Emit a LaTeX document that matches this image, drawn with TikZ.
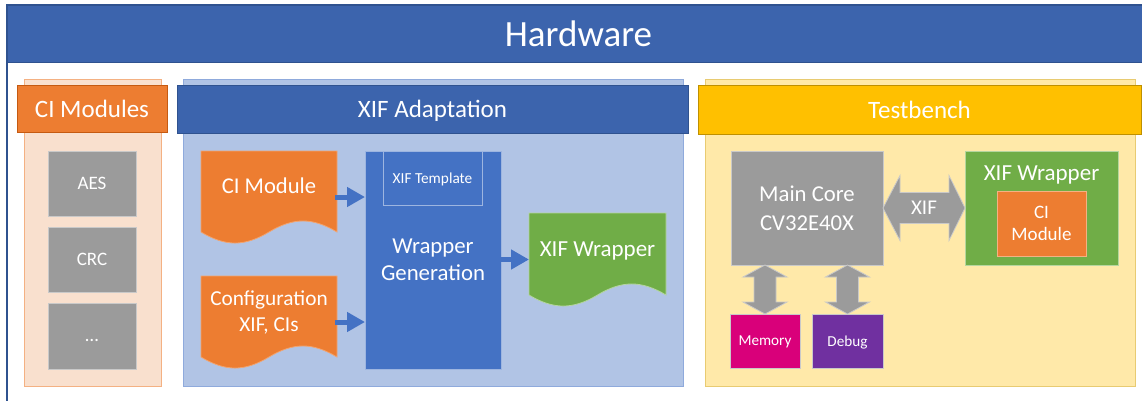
\documentclass[tikz,border=0pt]{standalone}
\usepackage{fontspec}
\setmainfont{Carlito}
\usetikzlibrary{fit,calc,arrows.meta}

\definecolor{hwblue}{HTML}{3C64AD}
\definecolor{hwline}{HTML}{2F528F}
\definecolor{cipeach}{HTML}{F9E0CE}
\definecolor{cipeachline}{HTML}{F4B183}
\definecolor{ciorange}{HTML}{ED7D31}
\definecolor{ciorangeline}{HTML}{C55A11}
\definecolor{modgray}{HTML}{9B9B9B}
\definecolor{modgrayline}{HTML}{C9C9C9}
\definecolor{xifbg}{HTML}{B1C4E5}
\definecolor{xifbgline}{HTML}{8FAADC}
\definecolor{wgblue}{HTML}{4472C4}
\definecolor{wgline}{HTML}{9DB5E0}
\definecolor{wrapgreen}{HTML}{70AD47}
\definecolor{wrapgreenline}{HTML}{B5D69E}
\definecolor{tbyellow}{HTML}{FFC000}
\definecolor{tbyellowline}{HTML}{BF9000}
\definecolor{tbbg}{HTML}{FFE9A9}
\definecolor{tbbgline}{HTML}{E8CB72}
\definecolor{memmag}{HTML}{D9007A}
\definecolor{dbgpurple}{HTML}{7030A0}

\newcommand\fs[2]{\fontsize{#1}{#2}\selectfont}

% document (flowchart) shape drawn over the extent of a named node
\newcommand\docshape[3]{%
  \filldraw[fill=#2, draw=#3, line width=0.8pt]
    (#1.north west) -- (#1.north east) -- ([yshift=11pt]#1.south east)
    .. controls +(-24.5,-14.7) and +(24.5,-14.7) .. ($(#1.south west)!0.5!(#1.south east)+(0,-11)$)
    .. controls +(-24.5,14.7) and +(24.5,14.7) .. ([yshift=11pt]#1.south west) -- cycle;}

\tikzset{
  box/.style={inner sep=0pt, outer sep=0pt},
  frame/.style={box, line width=1pt},
  cell/.style={box, line width=0.8pt, draw=modgrayline},
  txt/.style={inner sep=0pt, outer sep=0pt, text=white, align=center, text depth=0pt},
  bluearr/.style={draw=wgblue, line width=5pt, -{Triangle[length=18pt, width=19pt]}},
  grayarr/.style={fill=modgray, draw=modgrayline, line width=0.8pt},
}

\begin{document}
\begin{tikzpicture}[x=1pt,y=-1pt]
\useasboundingbox (0,0) rectangle (1142,400);
\clip (0,0) rectangle (1142,400);

% Hardware frame and title bar
\node[frame, fit={(7,5) (1160,420)}, draw=hwline, line width=1.4pt, fill=white] (hw) {};
\node[frame, fit={(7,5) (1150,62)}, fill=hwblue, draw=hwline] (hwhead) {};
\node[txt, font=\fs{37}{40}] (hwtxt) at (hwhead.center) {Hardware};

% CI Modules column
\node[frame, fit={(24,79) (161,386)}, fill=cipeach, draw=cipeachline] (cibg) {};
\node[frame, fit={(17,85) (167,132)}, fill=ciorange, draw=ciorangeline] (cihead) {};
\node[txt, font=\fs{25}{28}] (ciheadtxt) at (cihead.center) {CI Modules};
\node[cell, fit={(48,151) (136,216)}, fill=modgray] (aes) {};
\node[cell, fit={(48,227) (136,292)}, fill=modgray] (crc) {};
\node[cell, fit={(48,303) (136,369)}, fill=modgray] (more) {};
\node[txt, font=\fs{19}{22}] (aestxt) at (aes.center) {AES};
\node[txt, font=\fs{19}{22}] (crctxt) at (crc.center) {CRC};
\node[txt, font=\fs{19}{22}] (moretxt) at ([yshift=-4pt]more.center) {\dots};

% XIF Adaptation column
\node[frame, fit={(183,79) (683,386)}, fill=xifbg, draw=xifbgline] (xifbg) {};
\node[frame, fit={(177,85) (688,133)}, fill=hwblue, draw=hwline] (xifhead) {};
\node[txt, font=\fs{25}{28}] (xifheadtxt) at (xifhead.center) {XIF Adaptation};

\node[box, fit={(201,151) (337,243)}] (cimod) {};
\docshape{cimod}{ciorange}{ciorange!70!white}
\node[txt, font=\fs{22.6}{26}] (cimodtxt) at ([yshift=11pt]cimod.center) {CI Module};

\node[box, fit={(201,276) (337,368)}] (config) {};
\docshape{config}{ciorange}{ciorange!70!white}
\node[txt, font=\fs{21.3}{26}] (configtxt) at ([yshift=11pt]config.center) {Configuration\\XIF, CIs};

\node[cell, fit={(365,151) (501,369)}, fill=wgblue, draw=wgline] (wrapgen) {};
\node[txt, font=\fs{22.8}{27}] (wrapgentxt) at (wrapgen.center) {Wrapper\\Generation};
\node[cell, fit={(383,151) (482,205)}, fill=wgblue, draw=wgline] (tmpl) {};
\node[txt, font=\fs{15.3}{18}] (tmpltxt) at (tmpl.center) {XIF Template};

\node[box, fit={(529,213) (666,306)}] (xifwrap) {};
\docshape{xifwrap}{wrapgreen}{wrapgreenline}
\node[txt, font=\fs{23}{26}] (xifwraptxt) at ([yshift=10.5pt]xifwrap.center) {XIF Wrapper};

\draw[bluearr] ([xshift=-2pt]cimod.east) -- (cimod.east -| wrapgen.west);
\draw[bluearr] ([xshift=-2pt]config.east) -- (config.east -| wrapgen.west);
\draw[bluearr] (wrapgen.east |- xifwrap.center) -- (xifwrap.west);

% Testbench column
\node[frame, fit={(705,79) (1135,386)}, fill=tbbg, draw=tbbgline] (tbbg) {};
\node[frame, fit={(698,85) (1141,134)}, fill=tbyellow, draw=tbyellowline] (tbhead) {};
\node[txt, font=\fs{25}{28}] (tbheadtxt) at (tbhead.center) {Testbench};

\node[cell, fit={(731,151) (883,265)}, fill=modgray] (core) {};
\node[txt, font=\fs{22.7}{29}] (coretxt) at (core.center) {Main Core\\CV32E40X};
\node[cell, fit={(965,151) (1118,265)}, fill=wrapgreen, draw=wrapgreenline] (wrap2) {};
\node[txt, font=\fs{23}{26}] (wrap2txt) at ([yshift=-22pt]wrap2.north) {XIF Wrapper};
\node[cell, fit={(997,191) (1086,256)}, fill=ciorange, draw=cipeachline] (cimod2) {};
\node[txt, font=\fs{19}{22}] (cimod2txt) at (cimod2.center) {CI\\Module};
\node[cell, fit={(730,314) (800,368)}, fill=memmag] (mem) {};
\node[txt, font=\fs{15.2}{18}] (memtxt) at (mem.center) {Memory};
\node[cell, fit={(812,314) (883,368)}, fill=dbgpurple] (dbg) {};
\node[txt, font=\fs{15.2}{18}] (dbgtxt) at (dbg.center) {Debug};

% XIF interface arrow between core and wrapper
\filldraw[grayarr] let \p1=(core.east), \p2=(wrap2.west) in
  (\x1,\y1) -- (\x1+17pt,\y1+32.5pt) -- (\x1+17pt,\y1+15.5pt) -- (\x2-16pt,\y1+15.5pt)
  -- (\x2-16pt,\y1+32.5pt) -- (\x2,\y1) -- (\x2-16pt,\y1-32.5pt) -- (\x2-16pt,\y1-15.5pt)
  -- (\x1+17pt,\y1-15.5pt) -- (\x1+17pt,\y1-32.5pt) -- cycle;
\node[txt, font=\fs{21}{24}] (xiflbl) at ($(core.east)!0.5!(wrap2.west)$) {XIF};

% core to memory and debug
\foreach \t in {mem,dbg}{
  \filldraw[grayarr] let \p1=(\t.north |- core.south), \p2=(\t.north) in
    (\x1,\y1) -- (\x1+22pt,\y1-12pt) -- (\x1+11pt,\y1-12pt) -- (\x1+11pt,\y2+12pt)
    -- (\x1+22pt,\y2+12pt) -- (\x1,\y2) -- (\x1-22pt,\y2+12pt) -- (\x1-11pt,\y2+12pt)
    -- (\x1-11pt,\y1-12pt) -- (\x1-22pt,\y1-12pt) -- cycle;
}
\end{tikzpicture}
\end{document}
